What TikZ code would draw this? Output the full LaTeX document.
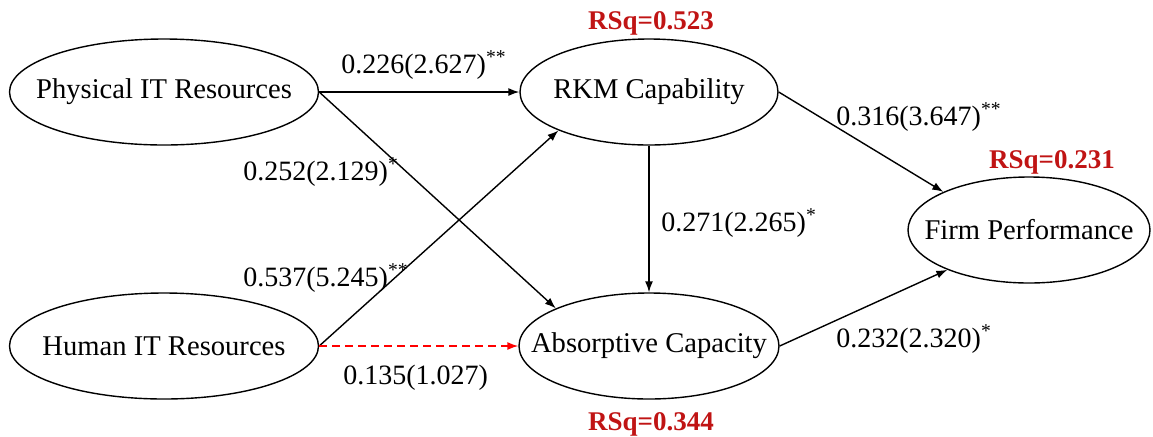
\documentclass[tikz,border=0pt]{standalone}
\usepackage{fontspec}
\setmainfont{Liberation Serif}
\usetikzlibrary{shapes.geometric,arrows.meta}
\definecolor{rsqred}{RGB}{192,20,20}
\tikzset{
  latent/.style={ellipse, draw, line width=0.7pt, minimum width=#1, minimum height=53pt, inner sep=0pt},
  vartext/.style={font=\fontsize{14.3}{16}\selectfont, inner sep=0pt},
  link/.style={-{Latex[length=5.5pt,width=4pt]}, line width=0.7pt},
  nslink/.style={link, red, dash pattern=on 4pt off 2.5pt},
  coef/.style={font=\fontsize{14}{16}\selectfont, inner sep=0pt, anchor=west},
  rsq/.style={font=\bfseries\fontsize{13.5}{16}\selectfont, text=rsqred, inner sep=0pt}
}
\begin{document}
\begin{tikzpicture}[x=0.5pt,y=-0.5pt]
\useasboundingbox (0,0) rectangle (1153,436);
% constructs
\node[latent=154.5pt, label={[vartext]center:Physical IT Resources}] (phys) at (164,92) {};
\node[latent=154.5pt, label={[vartext]center:Human IT Resources}] (human) at (164,346) {};
\node[latent=129pt, label={[vartext]center:RKM Capability}] (rkm) at (649,92) {};
\node[latent=130pt, label={[vartext]center:Absorptive Capacity}] (absorb) at (649,346) {};
\node[latent=121pt, label={[vartext]center:Firm Performance}] (firm) at (1029,230) {};
% paths
\draw[link] (phys.east) -- (rkm.west);
\draw[link] (phys.east) -- (absorb.158);
\draw[link] (human.east) -- (rkm.203);
\draw[nslink] (human.east) -- (absorb.west);
\draw[link] (rkm.south) -- (absorb.north);
\draw[link] (rkm.east) -- (firm.156);
\draw[link] (absorb.east) -- (firm.206);
% coefficients (t-values)
\node[coef] (c1) at (341,65) {0.226(2.627)\textsuperscript{**}};
\node[coef] (c2) at (243,172) {0.252(2.129)\textsuperscript{*}};
\node[coef] (c3) at (243,278) {0.537(5.245)\textsuperscript{**}};
\node[coef] (c4) at (343,378) {0.135(1.027)};
\node[coef] (c5) at (661,223) {0.271(2.265)\textsuperscript{*}};
\node[coef] (c6) at (836,117) {0.316(3.647)\textsuperscript{**}};
\node[coef] (c7) at (836,339) {0.232(2.320)\textsuperscript{*}};
% r-squared
\node[rsq] (r1) at (651,23) {RSq=0.523};
\node[rsq] (r2) at (1052,162) {RSq=0.231};
\node[rsq] (r3) at (651,424) {RSq=0.344};
\end{tikzpicture}
\end{document}
